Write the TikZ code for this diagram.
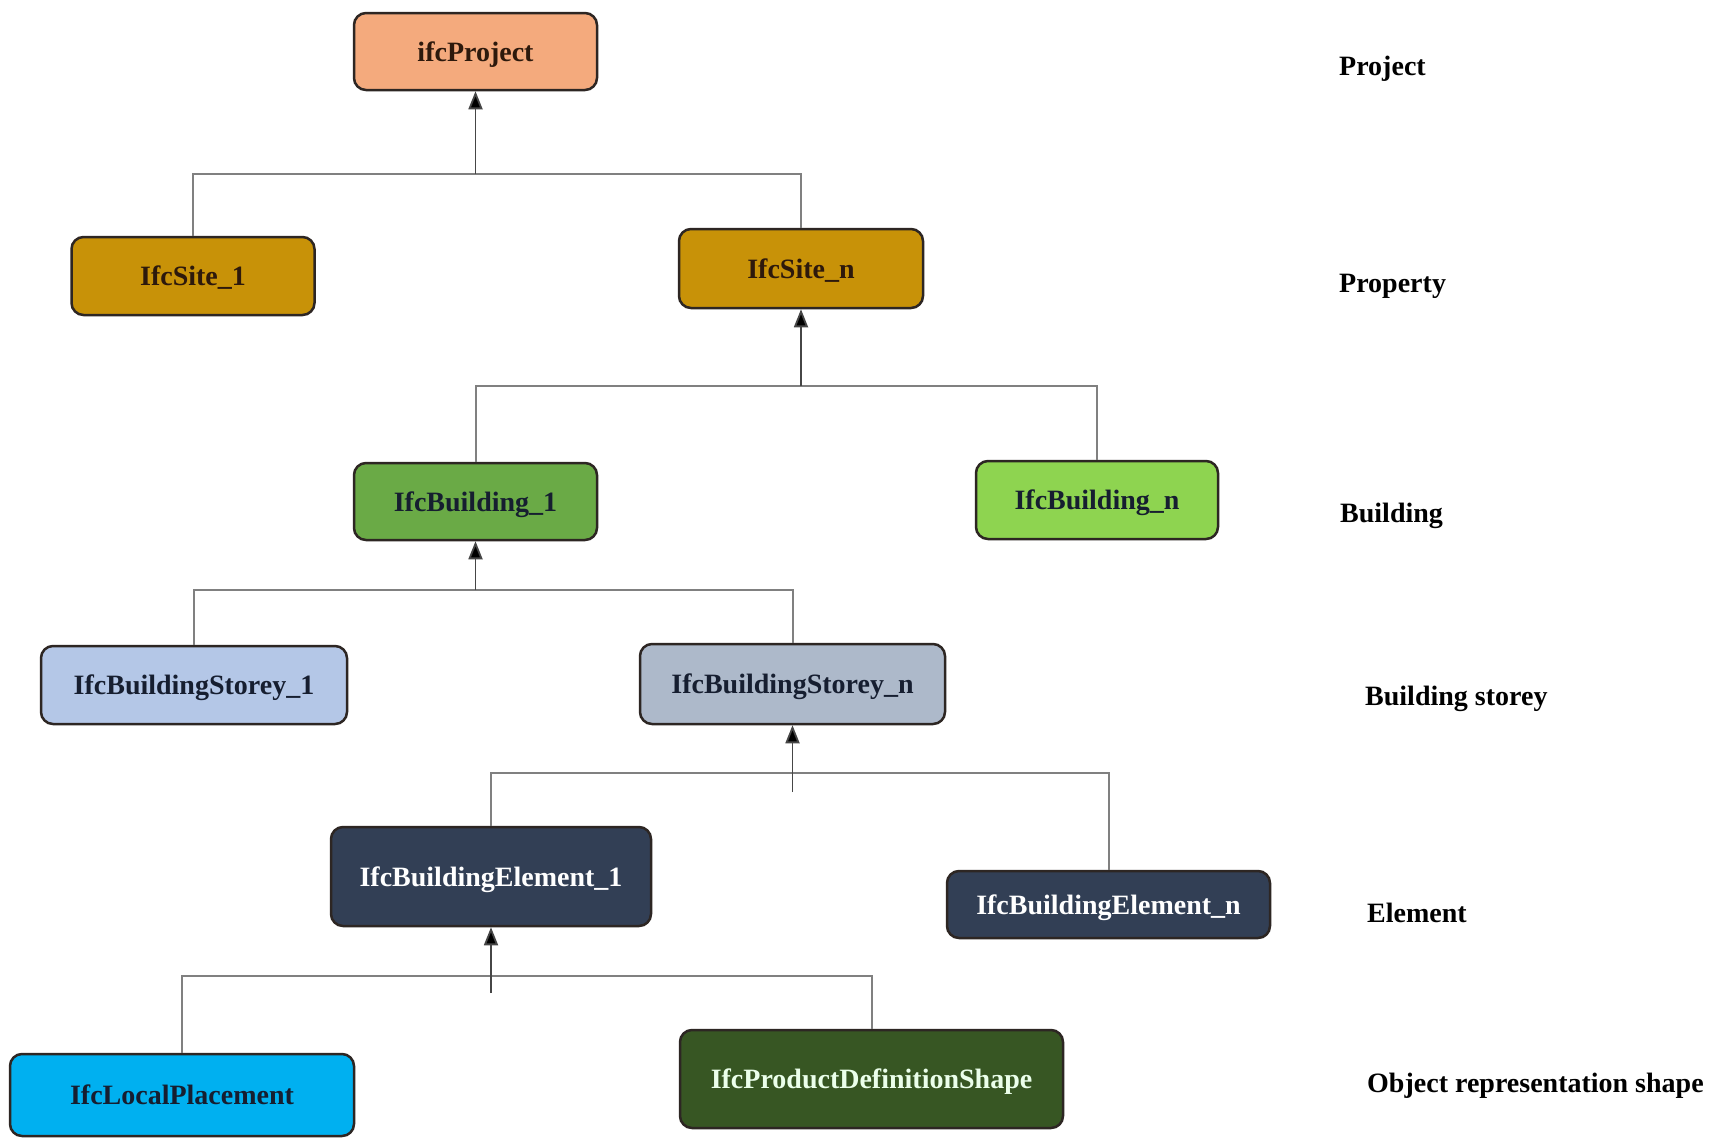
\documentclass[tikz,border=0pt]{standalone}
\usepackage{fontspec}
\setmainfont{Liberation Serif}
\usetikzlibrary{arrows.meta}

\definecolor{projfill}{RGB}{244,170,125}
\definecolor{sitefill}{RGB}{200,146,8}
\definecolor{bldone}{RGB}{106,170,70}
\definecolor{bldn}{RGB}{142,212,80}
\definecolor{storeyone}{RGB}{180,199,231}
\definecolor{storeyn}{RGB}{173,185,202}
\definecolor{elemfill}{RGB}{50,63,85}
\definecolor{placefill}{RGB}{0,176,240}
\definecolor{shapefill}{RGB}{55,86,35}
\definecolor{edge}{RGB}{45,38,35}
\definecolor{brown}{RGB}{45,25,12}
\definecolor{navy}{RGB}{22,30,48}
\definecolor{barline}{RGB}{128,128,128}
\definecolor{stemline}{RGB}{70,70,70}

\tikzset{
  box/.style={draw=edge, line width=2.5pt, rounded corners=12pt, rectangle,
    font=\bfseries\fontsize{28}{30}\selectfont, inner sep=0pt,
    text height=19pt, text depth=0pt},
  level/.style={anchor=west, font=\bfseries\fontsize{28}{30}\selectfont, text=black,
    inner sep=0pt, text height=19pt, text depth=0pt},
  bar/.style={draw=barline, line width=2pt},
  stem/.style={draw=stemline, line width=1.8pt, -{Triangle[length=18pt,width=14pt,fill=black]}},
}

\begin{document}
\begin{tikzpicture}[x=1pt,y=-1pt]
\useasboundingbox (0,0) rectangle (1725,1138);
\fill[white] (0,0) rectangle (1725,1138);

% hierarchy boxes
\node[box, fill=projfill, text=brown, minimum width=243pt, minimum height=77pt] (proj) at (475.5,51.5) {ifcProject};
\node[box, fill=sitefill, text=brown, minimum width=243pt, minimum height=78pt] (site1) at (193,276) {IfcSite\_1};
\node[box, fill=sitefill, text=brown, minimum width=244pt, minimum height=79pt] (siten) at (801,268.5) {IfcSite\_n};
\node[box, fill=bldone, text=navy, minimum width=243pt, minimum height=77pt] (bld1) at (475.5,501.5) {IfcBuilding\_1};
\node[box, fill=bldn, text=navy, minimum width=242pt, minimum height=78pt] (bldn) at (1097,500) {IfcBuilding\_n};
\node[box, fill=storeyone, text=navy, minimum width=306pt, minimum height=78pt] (st1) at (194,685) {IfcBuildingStorey\_1};
\node[box, fill=storeyn, text=navy, minimum width=305pt, minimum height=80pt] (stn) at (792.5,684) {IfcBuildingStorey\_n};
\node[box, fill=elemfill, text=white, minimum width=320pt, minimum height=99pt] (el1) at (491,876.5) {IfcBuildingElement\_1};
\node[box, fill=elemfill, text=white, minimum width=323pt, minimum height=67pt] (eln) at (1108.5,904.5) {IfcBuildingElement\_n};
\node[box, fill=placefill, text=navy, minimum width=344pt, minimum height=82pt] (lp) at (182,1095) {IfcLocalPlacement};
\node[box, fill=shapefill, text=white!92!green, minimum width=383pt, minimum height=98pt] (pds) at (871.5,1079) {IfcProductDefinitionShape};

% level captions
\node[level] (lvproj) at (1339,66) {Project};
\node[level] (lvprop) at (1339,283) {Property};
\node[level] (lvbld) at (1340,513) {Building};
\node[level] (lvst) at (1365,696) {Building storey};
\node[level] (lvel) at (1367,913) {Element};
\node[level] (lvobj) at (1367,1083) {Object representation shape};

% junction points on the horizontal bars
\coordinate (j1) at (475.5,174);
\coordinate (j2) at (801,386);
\coordinate (j3) at (475.5,590);
\coordinate (j4) at (792.5,773);
\coordinate (j4s) at (792.5,792);
\coordinate (j5) at (491,976);
\coordinate (j5s) at (491,993);

% bars joining siblings
\draw[bar] (site1.north) |- (j1) -| (siten.north);
\draw[bar] (bld1.north) |- (j2) -| (bldn.north);
\draw[bar] (st1.north) |- (j3) -| (stn.north);
\draw[bar] (el1.north) |- (j4) -| (eln.north);
\draw[bar] (lp.north) |- (j5) -| (pds.north);

% arrows up to each parent
\draw[stem] (j1) -- (proj.south);
\draw[stem] (j2) -- (siten.south);
\draw[stem] (j3) -- (bld1.south);
\draw[stem] (j4s) -- (stn.south);
\draw[stem] (j5s) -- (el1.south);
\end{tikzpicture}
\end{document}
